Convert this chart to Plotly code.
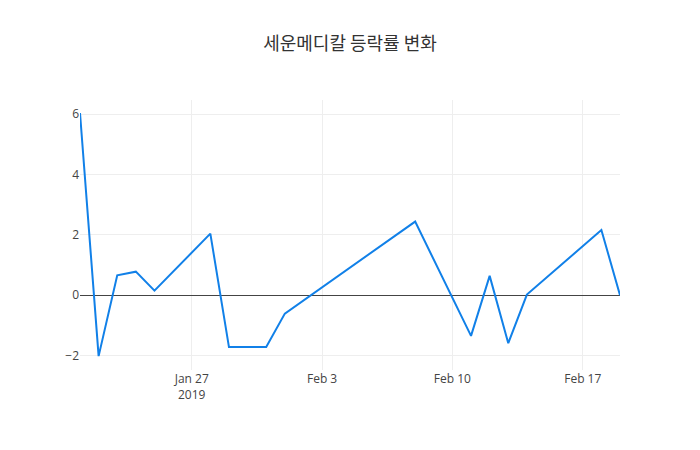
import plotly.graph_objects as go

dates = ["2019-01-21", "2019-01-22", "2019-01-23", "2019-01-24", "2019-01-25",
         "2019-01-28", "2019-01-29", "2019-01-31", "2019-02-01", "2019-02-08",
         "2019-02-11", "2019-02-12", "2019-02-13", "2019-02-14", "2019-02-18",
         "2019-02-19"]
rates = [6.04, -2.02, 0.66, 0.78, 0.15,
         2.04, -1.72, -1.72, -0.61, 2.44,
         -1.35, 0.64, -1.59, 0.02, 2.16,
         0.0]

title_text = "세운메디칼 등락률 변화"

fig = go.Figure(go.Scatter(x=dates, y=rates, mode="lines",
                           line=dict(color="rgb(17,128,232)", width=2)))
fig.update_layout(
    template="none",
    width=700, height=450,
    title=dict(text=title_text, x=0.5, xanchor="center",
               font=dict(family="Noto Sans CJK KR, Open Sans", size=18, color="#333")),
    margin=dict(l=80, r=80, t=100, b=80),
    font=dict(family="Open Sans, Noto Sans CJK KR", size=12, color="#444"),
    showlegend=False,
    plot_bgcolor="white", paper_bgcolor="white",
)
fig.update_xaxes(range=["2019-01-21", "2019-02-19"], gridcolor="#eee", showline=False, zeroline=False)
fig.update_yaxes(range=[-2.48, 6.47], gridcolor="#eee", zeroline=True, zerolinecolor="#444",
                 zerolinewidth=1, showline=False)
fig.write_html("out.html")
